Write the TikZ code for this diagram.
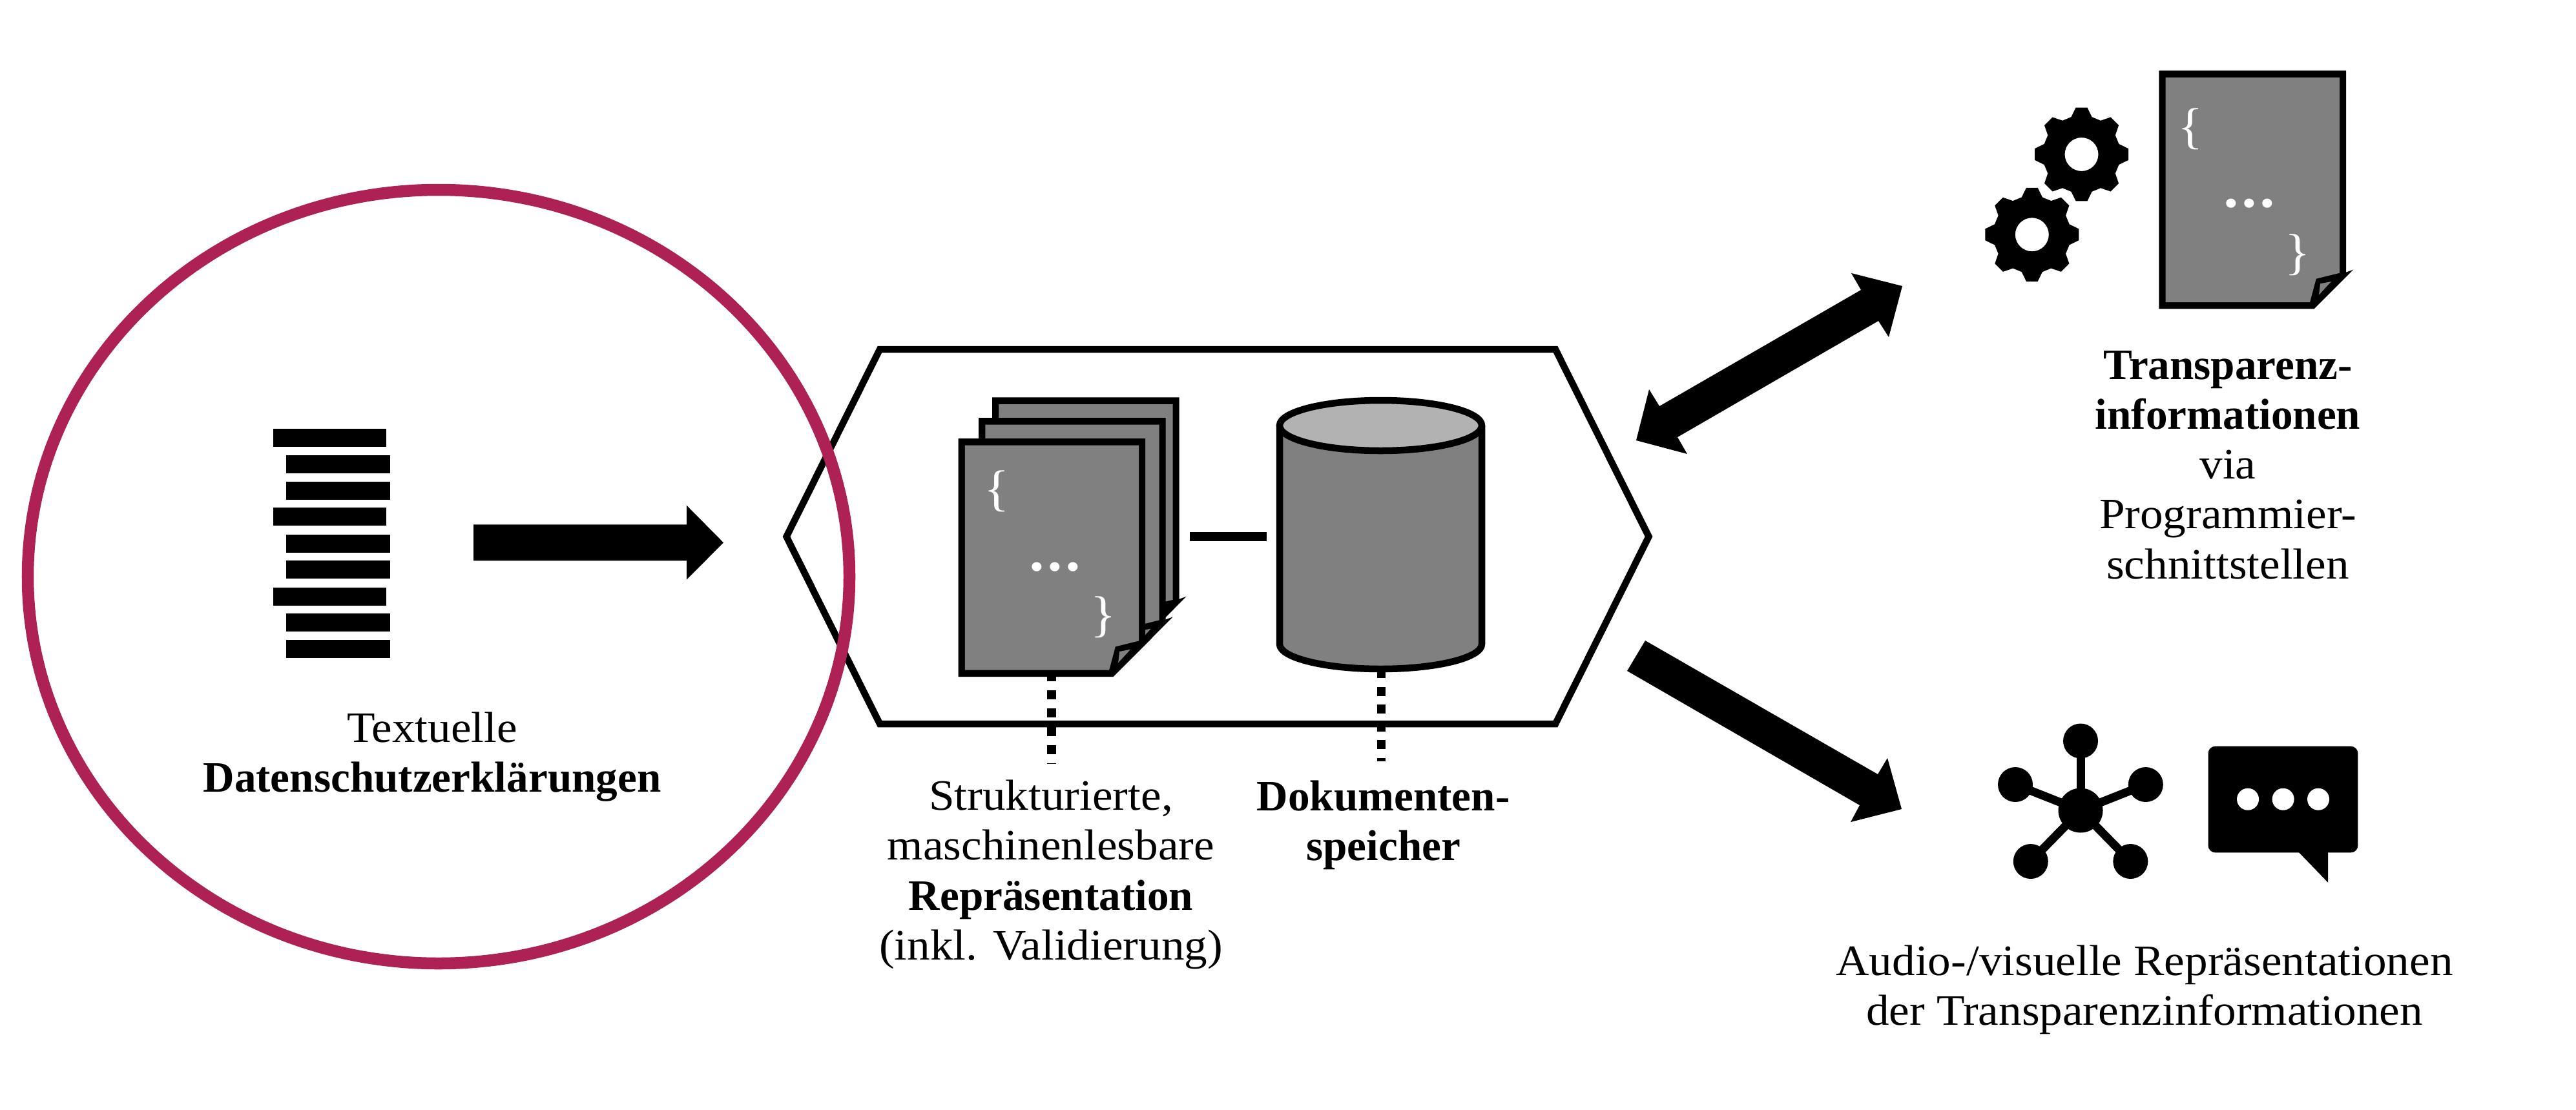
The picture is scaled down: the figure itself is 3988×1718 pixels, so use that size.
\documentclass[tikz,border=0pt]{standalone}
\usepackage{fontspec}
\setmainfont[FakeStretch=1.06,BoldFeatures={FakeStretch=1.0}]{Liberation Serif}
\newcommand{\px}{0.2845pt}
\definecolor{crim}{HTML}{AE2154}
\definecolor{docgray}{HTML}{808080}
\definecolor{lidgray}{HTML}{B2B2B2}
\tikzset{
  lbl/.style={font=\fontsize{19.1pt}{21.9pt}\selectfont,align=center,anchor=base,inner sep=0pt},
  hubnode/.style={circle,fill=black,draw=none,minimum size=54*0.01cm,inner sep=0pt},
  spoke/.style={line width=13*\px},
  dots/.style={line width=13.5*\px,draw=black},
  brace/.style={text=white,font=\fontsize{22pt}{22pt}\selectfont,inner sep=0pt},
  ell/.style={text=white,font=\fontsize{34pt}{34pt}\selectfont,inner sep=0pt}
}
\newcommand{\docsheet}[2]{%
  \begin{scope}[shift={(#1,#2)}]
    \fill[black] (0,0)--(289.6,0)--(289.6,312.4)--(300.6,308.4)--(240.2,369)--(0,369)--cycle;
    \fill[docgray] (10.3,10.7)--(279.6,10.7)--(279.6,313.4)--(243.3,322.4)--(233.6,358.7)--(10.3,358.7)--cycle;
    \fill[docgray] (249.6,330)--(266.6,326.7)--(247.6,347.4)--cycle;
  \end{scope}}
\newcommand{\gear}[2]{%
  \begin{scope}[shift={(#1,#2)}]
    \fill[black,even odd rule] (-15.5:60)
      \foreach \a in {0,45,...,315} { -- (\a-15.5:60) -- (\a-7:73) -- (\a+7:73) -- (\a+15.5:60) } -- cycle
      (26,0) arc[start angle=0,end angle=360,radius=26];
  \end{scope}}
\begin{document}
\begin{tikzpicture}[x=0.01cm,y=-0.01cm]
\useasboundingbox (0,0) rectangle (3988,1718);
% text stack
\foreach \y in {664,786,910} \fill[black] (423,\y) rectangle (598,\y+28);
\foreach \y in {705,746,828,868,950,991} \fill[black] (443,\y) rectangle (603.5,\y+28);
% arrow into hexagon
\fill[black] (733,812.3)--(1063,812.3)--(1063,782.7)--(1120,840.3)--(1063,897.7)--(1063,868.3)--(733,868.3)--cycle;
\node[lbl] (tDS) at (669,1226) {Textuelle\\\textbf{Datenschutzerklärungen}};
% hexagon
\draw[line width=10.5*\px,miter limit=10] (1362,541)--(2408,541)--(2552.5,831)--(2408,1121)--(1362,1121)--(1217.5,831)--cycle;
% documents
\docsheet{1536}{615.4}
\docsheet{1515}{647}
\docsheet{1483.5}{679}
\node[brace] (b1) at (1543,761) {\{};
\node[ell] (e1) at (1633,878) {.\kern -1pt.\kern -1pt.};
\node[brace] (b2) at (1708.6,956) {\}};
% cylinder
\fill[docgray] (1981,659)--(1981,997.5) arc[start angle=180,end angle=360,x radius=156.5,y radius=-38.5]--(2294,659)--cycle;
\draw[line width=10.5*\px] (1981,659)--(1981,997.5) arc[start angle=180,end angle=360,x radius=156.5,y radius=-38.5]--(2294,659);
\draw[line width=10.5*\px,fill=lidgray] (2137.5,659) ellipse[x radius=156.5,y radius=39];
\coordinate (docR) at (1842,831);
\coordinate (cylL) at (1961,831);
\draw[line width=14*\px] (docR)--(cylL);
\coordinate (docB) at (1628,1047);
\coordinate (docE) at (1628,1183);
\coordinate (cylB) at (2138.5,1041);
\coordinate (cylE) at (2138.5,1179);
\draw[dots,dash pattern=on 14*\px off 14.2*\px,dash phase=6*\px] (docB)--(docE);
\draw[dots,dash pattern=on 14*\px off 13.5*\px,dash phase=5*\px] (cylB)--(cylE);
\node[lbl] (tRep) at (1627,1486) {Strukturierte,\\maschinenlesbare\\\textbf{Repräsentation}\\(inkl. Validierung)};
\node[lbl] (tDok) at (2141.6,1332.7) {\textbf{Dokumenten-}\\\textbf{speicher}};
% big arrows
\fill[black] (2945,443)--(2866,423)--(2881,449)--(2569,629)--(2553,603)--(2533,682)--(2612,703)--(2597,677)--(2908,497)--(2924,522)--cycle;
\fill[black] (2547,992)--(2907,1199)--(2922,1174)--(2944,1253)--(2865,1273)--(2879,1247)--(2519,1039)--cycle;
% gears + doc
\gear{3222.5}{239}
\gear{3145.8}{363.3}
\docsheet{3342.4}{109.3}
\node[brace] (b3) at (3391,199.5) {\{};
\node[ell] (e3) at (3482.5,315) {.\kern -1pt.\kern -1pt.};
\node[brace] (b4) at (3557,394.7) {\}};
\node[lbl] (tTI) at (3449,896) {\textbf{Transparenz-}\\\textbf{informationen}\\via\\Programmier-\\schnittstellen};
% hub icon
\node[hubnode,minimum size=69*0.01cm] (hub) at (3221,1255) {};
\node[hubnode] (n1) at (3221,1147.5) {};
\node[hubnode] (n2) at (3120,1215) {};
\node[hubnode] (n3) at (3321.8,1215) {};
\node[hubnode] (n4) at (3143.8,1334) {};
\node[hubnode] (n5) at (3298.3,1334) {};
\foreach \n in {n1,n2,n3,n4,n5} \draw[spoke] (hub.center)--(\n.center);
% speech bubble
\fill[black,rounded corners=11*0.01cm] (3418.5,1155.7) rectangle (3650.4,1320.3);
\fill[black] (3558,1319)--(3604,1366.7)--(3604,1319)--cycle;
\foreach \x in {3480,3534.6,3589} \fill[white] (\x,1237.7) circle[radius=17];
\node[lbl] (tAV) at (3320,1587) {Audio-/visuelle Repräsentationen\\der Transparenzinformationen};
% circle on top
\draw[crim,line width=18.5*\px] (679,893) ellipse[x radius=636,y radius=599];
\end{tikzpicture}
\end{document}
